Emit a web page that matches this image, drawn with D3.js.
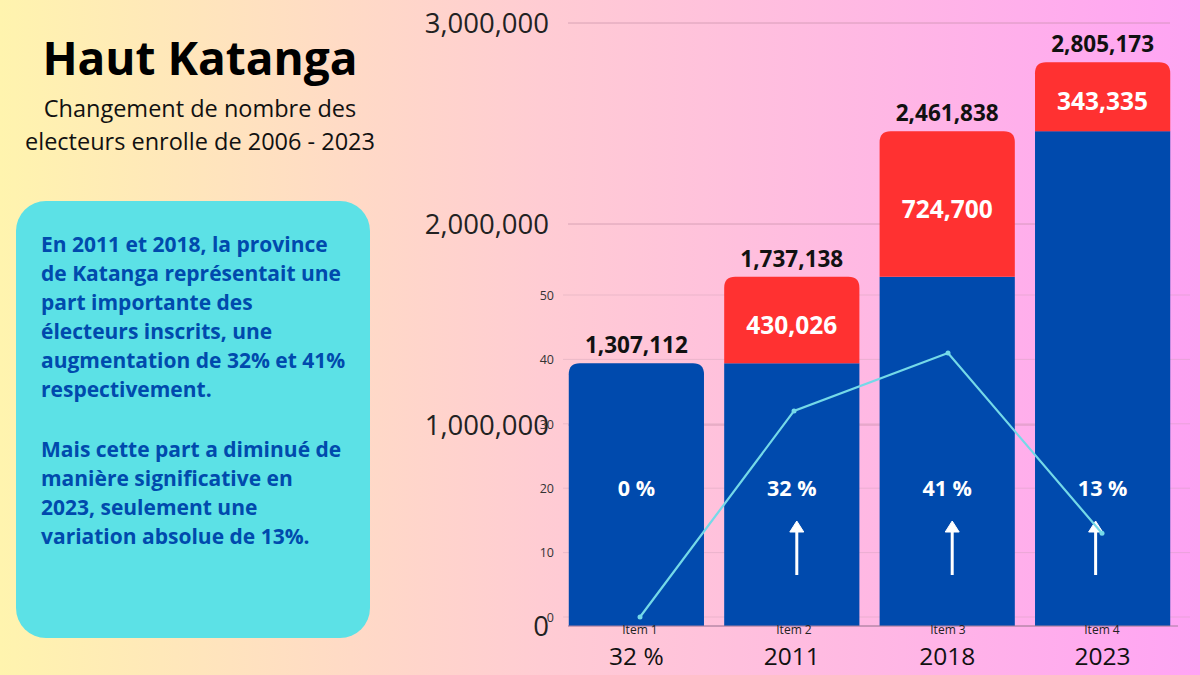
<!DOCTYPE html>
<html>
<head>
<meta charset="utf-8">
<script src="https://cdn.jsdelivr.net/npm/d3@7"></script>
<style>
  html, body { margin: 0; padding: 0; }
  body { width: 1200px; height: 675px; overflow: hidden; font-family: "Open Sans", sans-serif; }
</style>
</head>
<body>
<svg id="chart" width="1200" height="675"></svg>
<script>
// data
const items = ["Item 1", "Item 2", "Item 3", "Item 4"];
const yearLabels = ["32 %", "2011", "2018", "2023"];
const baseVals = [1307112, 1307112, 1737138, 2461838];
const increases = [0, 430026, 724700, 343335];
const totals = [1307112, 1737138, 2461838, 2805173];
const pctVals = [0, 32, 41, 13];
const leftTicks = [0, 1000000, 2000000, 3000000];
const rightTicks = [0, 10, 20, 30, 40, 50];
const noteLines1 = [
  "En 2011 et 2018, la province",
  "de Katanga représentait une",
  "part importante des",
  "électeurs inscrits, une",
  "augmentation de 32% et 41%",
  "respectivement."
];
const noteLines2 = [
  "Mais cette part a diminué de",
  "manière significative en",
  "2023, seulement une",
  "variation absolue de 13%."
];

const blue = "#004aad";
const red = "#ff3131";
const cyan = "#74d9e8";

const svg = d3.select("#chart");

// background gradient
const defs = svg.append("defs");
const grad = defs.append("linearGradient").attr("id", "bg")
  .attr("x1", 0).attr("x2", 1).attr("y1", 0).attr("y2", 0);
grad.append("stop").attr("offset", "0%").attr("stop-color", "#fff4ae");
grad.append("stop").attr("offset", "45%").attr("stop-color", "#ffccd3");
grad.append("stop").attr("offset", "100%").attr("stop-color", "#ffa4f4");
svg.append("rect").attr("width", 1200).attr("height", 675).attr("fill", "url(#bg)");

// title block
svg.append("text").attr("x", 200).attr("y", 75).attr("text-anchor", "middle")
  .attr("font-size", 46).attr("font-weight", 700).attr("fill", "#000")
  .text("Haut Katanga");
svg.append("text").attr("x", 200).attr("y", 117).attr("text-anchor", "middle")
  .attr("font-size", 23.5).attr("fill", "#111")
  .text("Changement de nombre des");
svg.append("text").attr("x", 200).attr("y", 150).attr("text-anchor", "middle")
  .attr("font-size", 23.5).attr("fill", "#111")
  .text("electeurs enrolle de 2006 - 2023");

// note box
svg.append("rect").attr("x", 16).attr("y", 201).attr("width", 354).attr("height", 437)
  .attr("rx", 30).attr("fill", "#5ce1e6");
const note = svg.append("g").attr("font-size", 21).attr("font-weight", 700).attr("fill", blue);
noteLines1.forEach((t, i) => {
  note.append("text").attr("x", 41).attr("y", 252 + i * 29).text(t);
});
noteLines2.forEach((t, i) => {
  note.append("text").attr("x", 41).attr("y", 457 + i * 29).text(t);
});

// scales
const x = d3.scaleBand().domain(items).range([561, 1178]).paddingInner(0.13).paddingOuter(0.05);
const y = d3.scaleLinear().domain([0, 3000000]).range([626, 23]);
const x2 = d3.scaleBand().domain(items).range([563, 1179]);
const y2 = d3.scaleLinear().domain([0, 50]).range([617, 295]);

// secondary gridlines (faint)
svg.append("g").selectAll("line").data(rightTicks).join("line")
  .attr("x1", 563).attr("x2", 1190)
  .attr("y1", d => y2(d)).attr("y2", d => y2(d))
  .attr("stroke", "#c79ab0").attr("stroke-opacity", 0.35).attr("stroke-width", 1);

// primary gridlines
svg.append("g").selectAll("line").data(leftTicks).join("line")
  .attr("x1", 568).attr("x2", 1170)
  .attr("y1", d => y(d)).attr("y2", d => y(d))
  .attr("stroke", "#c08aa0").attr("stroke-opacity", 0.6).attr("stroke-width", 1);

// primary axis
const yAxis = d3.axisLeft(y).tickValues(leftTicks).tickFormat(d3.format(",")).tickSize(0).tickPadding(0);
const gy = svg.append("g").attr("transform", "translate(549,0)").call(yAxis);
gy.select(".domain").remove();
gy.selectAll("text").attr("font-size", 27.5).attr("font-family", "Open Sans")
  .attr("fill", "#222").attr("dy", "0.35em");

// secondary axis
const y2Axis = d3.axisLeft(y2).tickValues(rightTicks).tickSize(0).tickPadding(0);
const gy2 = svg.append("g").attr("transform", "translate(554,0)").call(y2Axis);
gy2.select(".domain").remove();
gy2.selectAll("text").attr("font-size", 12.5).attr("font-family", "Open Sans")
  .attr("fill", "#333").attr("dy", "0.35em");

// top-rounded rect path
function topRounded(x0, y0, w, h, r) {
  r = Math.min(r, h);
  return `M${x0},${y0 + h}V${y0 + r}Q${x0},${y0} ${x0 + r},${y0}H${x0 + w - r}Q${x0 + w},${y0} ${x0 + w},${y0 + r}V${y0 + h}Z`;
}

const bars = svg.append("g");
items.forEach((it, i) => {
  const bx = x(it), bw = x.bandwidth();
  const yb = y(baseVals[i]);
  if (increases[i] > 0) {
    bars.append("rect").attr("x", bx).attr("y", yb).attr("width", bw)
      .attr("height", y(0) - yb).attr("fill", blue);
    const yt = y(totals[i]);
    bars.append("path").attr("d", topRounded(bx, yt, bw, yb - yt, 11)).attr("fill", red);
  } else {
    bars.append("path").attr("d", topRounded(bx, yb, bw, y(0) - yb, 11)).attr("fill", blue);
  }
});

// baseline
svg.append("line").attr("x1", 568).attr("x2", 1178).attr("y1", 626).attr("y2", 626)
  .attr("stroke", "#a87fa0").attr("stroke-width", 1);

// total labels
svg.append("g").selectAll("text").data(items).join("text")
  .attr("x", d => x(d) + x.bandwidth() / 2)
  .attr("y", (d, i) => y(totals[i]) - 10)
  .attr("text-anchor", "middle").attr("font-size", 22.5).attr("font-weight", 700)
  .attr("fill", "#111")
  .text((d, i) => d3.format(",")(totals[i]));

// increase labels
svg.append("g").selectAll("text").data(items.filter((d, i) => increases[i] > 0)).join("text")
  .attr("x", d => x(d) + x.bandwidth() / 2)
  .attr("y", d => { const i = items.indexOf(d); return (y(totals[i]) + y(baseVals[i])) / 2 + 5; })
  .attr("dy", "0.36em")
  .attr("text-anchor", "middle").attr("font-size", 24.5).attr("font-weight", 700)
  .attr("fill", "#fff")
  .text(d => d3.format(",")(increases[items.indexOf(d)]));

// percent labels
svg.append("g").selectAll("text").data(items).join("text")
  .attr("x", d => x(d) + x.bandwidth() / 2)
  .attr("y", 488).attr("dy", "0.36em")
  .attr("text-anchor", "middle").attr("font-size", 21.5).attr("font-weight", 700)
  .attr("fill", "#fff")
  .text((d, i) => pctVals[i] + " %");

// arrows
const arrows = svg.append("g").attr("fill", "#fff").attr("stroke", "#fff");
items.forEach((it, i) => {
  if (pctVals[i] <= 0) return;
  const cx = x(it) + x.bandwidth() / 2 + (i === 3 ? -7 : 5);
  arrows.append("line").attr("x1", cx).attr("x2", cx).attr("y1", 575).attr("y2", 530)
    .attr("stroke-width", 3);
  arrows.append("path").attr("d", `M${cx - 7},${532}L${cx},${521}L${cx + 7},${532}Z`)
    .attr("stroke-width", 1).attr("stroke-linejoin", "round");
});

// line series
const line = d3.line().x((d, i) => x2(items[i]) + x2.bandwidth() / 2).y(d => y2(d));
svg.append("path").datum(pctVals).attr("d", line)
  .attr("fill", "none").attr("stroke", cyan).attr("stroke-width", 2.2);
svg.append("g").selectAll("circle").data(pctVals).join("circle")
  .attr("cx", (d, i) => x2(items[i]) + x2.bandwidth() / 2)
  .attr("cy", d => y2(d)).attr("r", 2.5).attr("fill", cyan);

// item labels
svg.append("g").selectAll("text").data(items).join("text")
  .attr("x", d => x2(d) + x2.bandwidth() / 2).attr("y", 634)
  .attr("text-anchor", "middle").attr("font-size", 12).attr("fill", "#222")
  .text(d => d);

// year labels
svg.append("g").selectAll("text").data(items).join("text")
  .attr("x", d => x(d) + x.bandwidth() / 2).attr("y", 665)
  .attr("text-anchor", "middle").attr("font-size", 24.5).attr("fill", "#111")
  .text((d, i) => yearLabels[i]);
</script>
</body>
</html>
